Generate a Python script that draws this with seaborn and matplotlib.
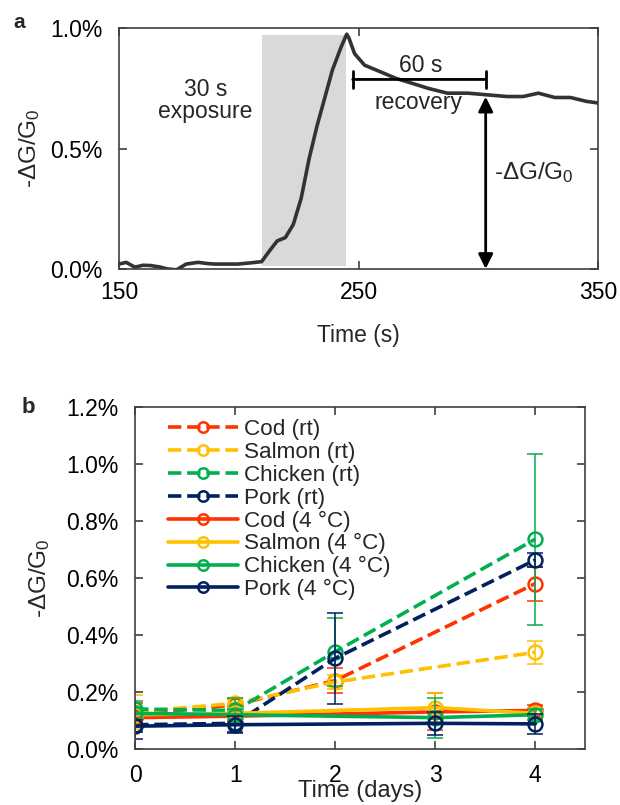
import numpy as np
import pandas as pd
import matplotlib
matplotlib.use('Agg')
import matplotlib.pyplot as plt
import seaborn as sns
from matplotlib.ticker import FuncFormatter

# panel a: trace (time in s, signal in %)
trace_t = [150, 153, 156.6, 160, 163, 167, 170, 174, 178, 183, 187, 190, 195, 199.6, 205, 209.5,
           212.8, 216, 219.4, 222.7, 226, 229.3, 232.6, 236, 239, 242.6, 245, 245.9, 248.3,
           252.5, 259, 265.7, 272.3, 279, 287, 295.5, 303.7, 312, 318.6, 325, 331.8, 338.4,
           345, 350]
trace_v = [0.02, 0.027, 0.007, 0.015, 0.014, 0.008, 0.0, -0.004, 0.02, 0.027, 0.022, 0.02, 0.02,
           0.02, 0.025, 0.03, 0.075, 0.116, 0.13, 0.184, 0.293, 0.457, 0.593, 0.716, 0.825, 0.92,
           0.975, 0.96, 0.894, 0.846, 0.819, 0.791, 0.771, 0.75, 0.73, 0.73, 0.723, 0.716, 0.716,
           0.73, 0.712, 0.712, 0.696, 0.689]
exposure = (209.5, 244.7)
recovery = (247.5, 303.0)

# panel b: days and values in %
days = [0, 1, 2, 3, 4]
series = ['Cod (rt)', 'Salmon (rt)', 'Chicken (rt)', 'Pork (rt)',
          'Cod (4 °C)', 'Salmon (4 °C)', 'Chicken (4 °C)', 'Pork (4 °C)']
days_rt = [0, 1, 2, 4]
days_4c = [0, 1, 3, 4]
cod_rt = [0.12, 0.155, 0.24, 0.58]
salmon_rt = [0.13, 0.16, 0.235, 0.339]
chicken_rt = [0.14, 0.135, 0.341, 0.736]
pork_rt = [0.085, 0.09, 0.318, 0.663]
cod_4c = [0.11, 0.115, 0.13, 0.135]
salmon_4c = [0.12, 0.125, 0.145, 0.125]
chicken_4c = [0.125, 0.12, 0.11, 0.12]
pork_4c = [0.08, 0.085, 0.09, 0.088]
cod_rt_err = [0.04, 0.02, 0.045, 0.06]
salmon_rt_err = [0.06, 0.02, 0.025, 0.04]
chicken_rt_err = [0.03, 0.045, 0.12, 0.30]
pork_rt_err = [0.05, 0.03, 0.16, 0.025]
cod_4c_err = [0.02, 0.02, 0.065, 0.02]
salmon_4c_err = [0.02, 0.02, 0.05, 0.02]
chicken_4c_err = [0.02, 0.02, 0.07, 0.02]
pork_4c_err = [0.02, 0.03, 0.04, 0.035]

colors = {'Cod': '#FF3300', 'Salmon': '#FFC000', 'Chicken': '#00B050', 'Pork': '#002060'}

sns.set_style('ticks')
plt.rcParams['font.family'] = ['Liberation Sans', 'DejaVu Sans']
plt.rcParams['mathtext.fontset'] = 'custom'
plt.rcParams['mathtext.rm'] = 'Liberation Sans'
plt.rcParams['mathtext.it'] = 'Liberation Sans:italic'
plt.rcParams['axes.edgecolor'] = '#404040'
plt.rcParams['axes.linewidth'] = 1.2

FS = 16.5
ylab = r'-$\mathrm{\Delta G/G_0}$'
pct = FuncFormatter(lambda v, p: '{:.1f}%'.format(v))

fig = plt.figure(figsize=(6.2, 8.05), dpi=100)
axa = fig.add_axes([0.192, 0.666, 0.773, 0.299])
axb = fig.add_axes([0.218, 0.0696, 0.726, 0.425])

# ---- panel a
axa.fill_between(list(exposure), 0.014, 0.97, color='#d9d9d9', lw=0)
sns.lineplot(x=trace_t, y=trace_v, ax=axa, color='#333333', lw=2.6)
axa.set_xlim(150, 350)
axa.set_ylim(0, 1.0)
axa.set_xticks([150, 250, 350])
axa.set_yticks([0, 0.5, 1.0])
axa.yaxis.set_major_formatter(pct)
axa.set_xlabel('Time (s)', fontsize=FS, labelpad=14)
axa.set_ylabel(ylab, fontsize=FS + 1, labelpad=6)
axa.text(186, 0.745, '30 s', ha='center', va='center', fontsize=FS)
axa.text(186, 0.655, 'exposure', ha='center', va='center', fontsize=FS)
axa.text(276, 0.845, '60 s', ha='center', va='center', fontsize=FS)
axa.text(275, 0.69, 'recovery', ha='center', va='center', fontsize=FS)
axa.annotate('', xy=(recovery[0], 0.787), xytext=(recovery[1], 0.787),
             arrowprops=dict(arrowstyle='|-|', lw=2, color='black', shrinkA=0, shrinkB=0,
                             mutation_scale=6))
axa.annotate('', xy=(recovery[1], 0.0), xytext=(recovery[1], 0.715),
             arrowprops=dict(arrowstyle='<|-|>', lw=2, color='black', shrinkA=0, shrinkB=0,
                             mutation_scale=22))
axa.text(323, 0.40, ylab, ha='center', va='center', fontsize=FS + 1)

# ---- panel b
rt_vals = [cod_rt, salmon_rt, chicken_rt, pork_rt]
c4_vals = [cod_4c, salmon_4c, chicken_4c, pork_4c]
rt_errs = [cod_rt_err, salmon_rt_err, chicken_rt_err, pork_rt_err]
c4_errs = [cod_4c_err, salmon_4c_err, chicken_4c_err, pork_4c_err]
names = ['Cod', 'Salmon', 'Chicken', 'Pork']

rows = []
for i, n in enumerate(names):
    for d, v, e in zip(days_rt, rt_vals[i], rt_errs[i]):
        rows.append(dict(series=series[i], day=d, val=v, err=e, color=colors[n], dash=True))
for i, n in enumerate(names):
    for d, v, e in zip(days_4c, c4_vals[i], c4_errs[i]):
        rows.append(dict(series=series[4 + i], day=d, val=v, err=e, color=colors[n], dash=False))
df = pd.DataFrame(rows)

for s in series:
    sub = df[df['series'] == s]
    col = sub['color'].iloc[0]
    dashed = sub['dash'].iloc[0]
    axb.errorbar(sub['day'], sub['val'], yerr=sub['err'], fmt='none', ecolor=col,
                 elinewidth=1.1, capsize=6, capthick=1.1)
    sns.lineplot(data=sub, x='day', y='val', ax=axb, color=col, lw=2.6,
                 linestyle='--' if dashed else '-', marker='o', markersize=10,
                 markerfacecolor='none', markeredgecolor=col, markeredgewidth=1.8,
                 label=s, dashes=False)

axb.set_xlim(0, 4.5)
axb.set_ylim(0, 1.2)
axb.set_xticks(days)
axb.set_yticks(np.arange(0, 1.21, 0.2))
axb.yaxis.set_major_formatter(pct)
axb.set_xlabel('Time (days)', fontsize=FS + 0.5, labelpad=-5)
axb.set_ylabel(ylab, fontsize=FS + 1, labelpad=10)
axb.legend(loc='upper left', bbox_to_anchor=(0.045, 1.0), frameon=False, fontsize=16.2,
           handlelength=3.1, handletextpad=0.3, labelspacing=0.08, borderaxespad=0.15,
           markerscale=0.75)

for ax in (axa, axb):
    ax.tick_params(direction='in', length=6, width=1.2, top=True, right=True,
                   labelsize=FS, colors='#404040', labelcolor='black')
    ax.tick_params(axis='y', pad=12)
axa.tick_params(axis='x', pad=9)
axb.tick_params(axis='x', pad=11)

fig.text(0.022, 0.972, 'a', fontsize=15, fontweight='bold', va='center')
fig.text(0.035, 0.494, 'b', fontsize=16, fontweight='bold', va='center')

fig.savefig('out.png', dpi=100)
